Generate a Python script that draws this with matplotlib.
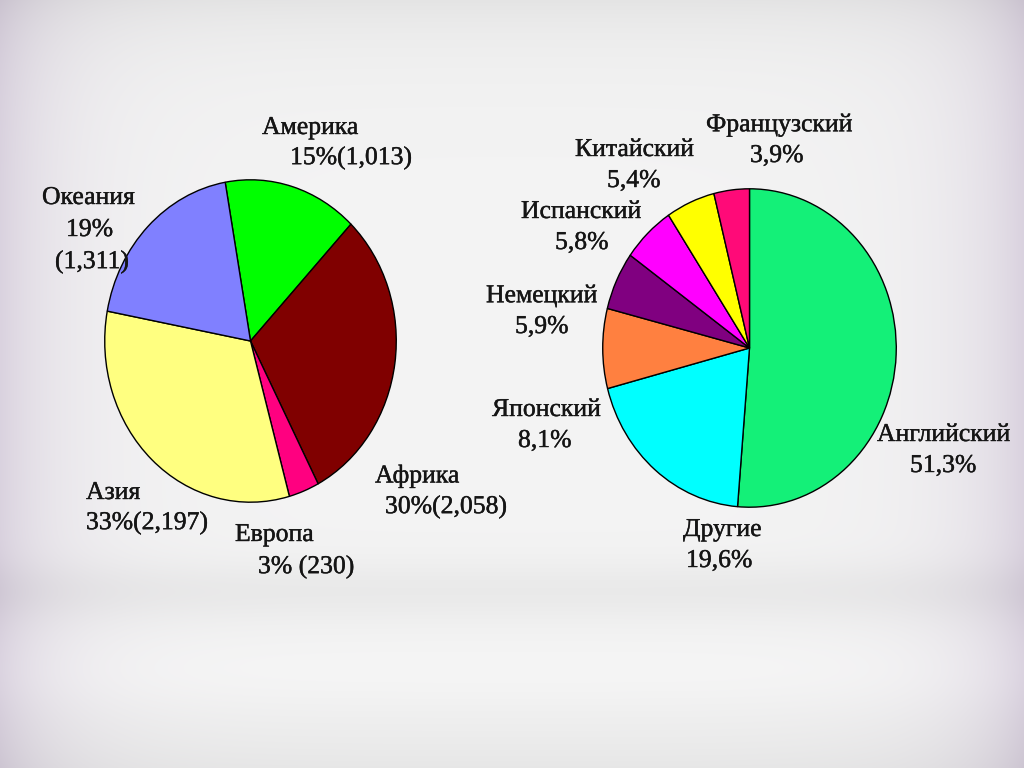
import numpy as np
import matplotlib.pyplot as plt
import matplotlib.patheffects as pe

plt.rcParams['font.family'] = ['Liberation Serif', 'DejaVu Serif']

# Left chart: regions (value in thousands, share %)
regions = ['Америка', 'Африка', 'Европа', 'Азия', 'Океания']
region_values = [1013, 2058, 230, 2197, 1311]
region_colors = ['#00ff00', '#800000', '#ff0080', '#ffff80', '#8080ff']

# Right chart: languages (%)
languages = ['Английский', 'Другие', 'Японский', 'Немецкий', 'Испанский', 'Китайский', 'Французский']
language_shares = [51.3, 19.6, 8.1, 5.9, 5.8, 5.4, 3.9]
language_colors = ['#14f078', '#00ffff', '#ff8040', '#800080', '#ff00ff', '#ffff00', '#ff0a78']

# label lines (text, left x px, centre y px)
left_labels = [
    ('Америка', 262, 128), ('15%(1,013)', 290, 158),
    ('Океания', 42, 198), ('19%', 66, 230), ('(1,311)', 55, 262),
    ('Азия', 86, 493), ('33%(2,197)', 86, 523),
    ('Европа', 235, 535), ('3% (230)', 258, 567),
    ('Африка', 375, 476), ('30%(2,058)', 385, 507),
]
right_labels = [
    ('Французский', 706, 125), ('3,9%', 750, 156),
    ('Китайский', 575, 150), ('5,4%', 607, 181),
    ('Испанский', 521, 212), ('5,8%', 555, 243),
    ('Немецкий', 486, 296), ('5,9%', 515, 327),
    ('Японский', 492, 410), ('8,1%', 518, 441),
    ('Английский', 877, 435), ('51,3%', 910, 466),
    ('Другие', 683, 530), ('19,6%', 686, 561),
]

W, H = 1024, 768
fig = plt.figure(figsize=(W / 100, H / 100), dpi=100)

# slide background: soft lavender-grey gradient with darker edges
yy = np.linspace(0, 1, H)[:, None]
xx = np.linspace(0, 1, W)[None, :]
v = (0.955
     - 0.06 * np.exp(-yy / 0.06)
     - 0.035 * np.exp(-((yy - 0.77) / 0.04) ** 2)
     + 0.015 * np.exp(-((yy - 0.88) / 0.05) ** 2)
     - 0.05 * np.exp(-(1 - yy) / 0.08))
edge = np.exp(-xx / 0.06) + np.exp(-(1 - xx) / 0.06)
shade = v - 0.10 * edge
bg = np.clip(np.dstack([shade, shade - 0.03 * edge, shade + 0.02 * edge]), 0, 1)
ax_bg = fig.add_axes([0, 0, 1, 1])
ax_bg.imshow(bg, aspect='auto', extent=[0, W, H, 0])
ax_bg.set_axis_off()


def pie_axes(x0, x1, y0, y1):
    return fig.add_axes([x0 / W, 1 - y1 / H, (x1 - x0) / W, (y1 - y0) / H])


def draw_pie(ax, values, colors, start):
    ax.pie(values, colors=colors, startangle=start, counterclock=False,
           wedgeprops=dict(edgecolor='black', linewidth=1))
    ax.set_aspect('auto')
    ax.set_xlim(-1.005, 1.005)
    ax.set_ylim(-1.005, 1.005)
    ax.set_axis_off()


ax1 = pie_axes(104, 397, 179, 503)
draw_pie(ax1, region_values, region_colors, 100)

ax2 = pie_axes(602, 897, 188, 508)
draw_pie(ax2, language_shares, language_colors, 90)

for text, x, y in left_labels + right_labels:
    fig.text(x / W, 1 - y / H, text, ha='left', va='center', fontsize=18.5, color='#151515',
             path_effects=[pe.withStroke(linewidth=0.3, foreground='#151515')])

fig.savefig('out.png', dpi=100)
